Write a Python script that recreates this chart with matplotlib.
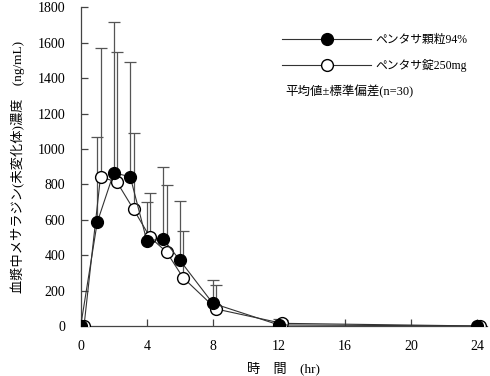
import matplotlib.pyplot as plt
import numpy as np

serif_jp = ['Liberation Serif', 'DejaVu Serif', 'Noto Sans CJK JP']
plt.rcParams['font.family'] = serif_jp

hours = [0, 1, 2, 3, 4, 5, 6, 8, 12, 24]
granule_mean = [0, 585, 865, 843, 482, 490, 372, 128, 6, 0]
granule_sd = [0, 481, 852, 647, 217, 407, 334, 132, 34, 0]
tablet_mean = [0, 843, 812, 659, 501, 418, 273, 96, 15, 0]
tablet_sd = [0, 729, 736, 430, 250, 379, 265, 137, 20, 0]

granule_label = 'ペンタサ顆粒94%'
tablet_label = 'ペンタサ錠250mg'
note = '平均値±標準偏差(n=30)'
xticks = [0, 4, 8, 12, 16, 20, 24]
yticks = np.arange(0, 1801, 200)

fig = plt.figure(figsize=(4.9, 3.76), dpi=100)
ax = fig.add_axes([0.1647, 0.133, 0.829, 0.8476])

t = np.array(hours, dtype=float)
shift = 0.2

ax.errorbar(t, granule_mean, yerr=[np.zeros(len(t)), granule_sd], fmt='none',
            ecolor='#555555', elinewidth=0.9, capsize=4, capthick=0.9, zorder=2)
ax.errorbar(t + shift, tablet_mean, yerr=[np.zeros(len(t)), tablet_sd], fmt='none',
            ecolor='#555555', elinewidth=0.9, capsize=4, capthick=0.9, zorder=2)

ax.plot(t, granule_mean, '-o', color='#333333', lw=0.8, ms=8.5, mfc='black',
        mec='black', label=granule_label, zorder=4)
ax.plot(t + shift, tablet_mean, '-o', color='#333333', lw=0.8, ms=8.5, mfc='white',
        mec='black', label=tablet_label, zorder=3)

ax.set_xlim(0, 24.6)
ax.set_ylim(0, 1800)
ax.set_xticks(xticks)
ax.set_yticks(yticks)
ax.spines['top'].set_visible(False)
ax.spines['right'].set_visible(False)
for s in ['left', 'bottom']:
    ax.spines[s].set_color('#444444')
    ax.spines[s].set_linewidth(0.9)
ax.tick_params(direction='in', length=5, width=0.9, color='#444444', labelsize=10)
ax.tick_params(axis='x', pad=10)
ax.tick_params(axis='y', pad=11)

leg = ax.legend(loc='upper left', bbox_to_anchor=(0.47, 0.95), frameon=False,
                handlelength=7.5, labelspacing=1.1, handletextpad=0.4,
                prop={'family': serif_jp, 'size': 8.5})
ax.text(0.505, 0.735, note, transform=ax.transAxes, fontsize=9,
        family=serif_jp, va='center', ha='left')

ax.set_ylabel('血漿中メサラジン(未変化体)濃度　(ng/mL)', fontsize=9.5,
              family=serif_jp, labelpad=9)
ax.set_xlabel('時　間　(hr)', fontsize=9.5, family=serif_jp, labelpad=6)

fig.savefig('out.png', dpi=100)
